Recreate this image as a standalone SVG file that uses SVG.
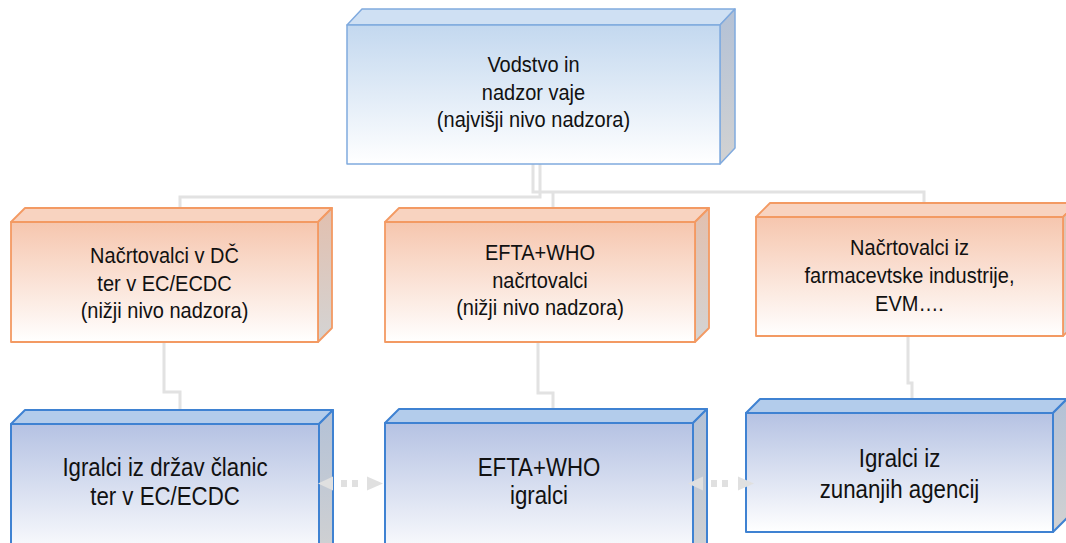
<svg xmlns="http://www.w3.org/2000/svg" width="1066" height="543" viewBox="0 0 1066 543">
<defs>
<linearGradient id="gTop" x1="0" y1="0" x2="0" y2="1"><stop offset="0" stop-color="#c3d8ef"/><stop offset="1" stop-color="#ffffff"/></linearGradient>
<linearGradient id="gOr" x1="0" y1="0" x2="0" y2="1"><stop offset="0" stop-color="#f6c6ae"/><stop offset="1" stop-color="#ffffff"/></linearGradient>
<linearGradient id="gBl" x1="0" y1="0" x2="0" y2="1"><stop offset="0" stop-color="#b5c2e3"/><stop offset="1" stop-color="#ffffff"/></linearGradient>
<linearGradient id="gSideB" x1="0" y1="0" x2="0" y2="1"><stop offset="0" stop-color="#b3c1d6"/><stop offset="1" stop-color="#d2d2d2"/></linearGradient>
<linearGradient id="gSideO" x1="0" y1="0" x2="0" y2="1"><stop offset="0" stop-color="#e2bfae"/><stop offset="1" stop-color="#d4d4d4"/></linearGradient>
</defs>
<style>
.t{font-family:"Liberation Sans",Arial,sans-serif;fill:#111111;text-anchor:middle}
.s20{font-size:21.5px}
.s22{font-size:25px}
.topB{stroke:#80aade;stroke-width:1.5;stroke-linejoin:round}
.orB{stroke:#f39a63;stroke-width:1.8;stroke-linejoin:round}
.blB{stroke:#3f82d2;stroke-width:2;stroke-linejoin:round}
.conn{fill:none;stroke:#e2e2e2;stroke-width:3}
.dots{stroke:#e0e0e0;stroke-width:7;stroke-dasharray:6 5}
.head{fill:#e0e0e0}
</style>
<rect width="1066" height="543" fill="#ffffff"/>
<g id="connectors">
<path class="conn" d="M540,164 V197 H180 V208"/>
<path class="conn" d="M533,164 V192 H924 V203"/>
<path class="conn" d="M553,192 V208"/>
<path class="conn" d="M164,342 V392 H180 V410"/>
<path class="conn" d="M538,342 V393 H553 V409"/>
<path class="conn" d="M908,336 V383 H912 V399"/>
</g>
<g id="node-top">
<polygon class="topB" fill="#cfe0f3" points="347,25 362,9 735,9 720,25"/>
<polygon class="topB" fill="url(#gSideB)" points="720,25 735,9 735,148 720,164"/>
<rect class="topB" x="347" y="25" width="373" height="139" fill="url(#gTop)"/>
<text class="t s20" transform="translate(533.5,72) scale(0.93,1)">Vodstvo in</text>
<text class="t s20" transform="translate(533.5,100) scale(0.93,1)">nadzor vaje</text>
<text class="t s20" transform="translate(533.5,127) scale(0.93,1)">(najvišji nivo nadzora)</text>
</g>
<g id="node-or1">
<polygon class="orB" fill="#f8d3c0" points="11,222 25,208 332,208 318,222"/>
<polygon class="orB" fill="url(#gSideO)" points="318,222 332,208 332,328 318,342"/>
<rect class="orB" x="11" y="222" width="307" height="120" fill="url(#gOr)"/>
<text class="t s20" transform="translate(164.5,263) scale(0.93,1)">Načrtovalci v DČ</text>
<text class="t s20" transform="translate(164.5,291) scale(0.93,1)">ter v EC/ECDC</text>
<text class="t s20" transform="translate(164.5,318) scale(0.93,1)">(nižji nivo nadzora)</text>
</g>
<g id="node-or2">
<polygon class="orB" fill="#f8d3c0" points="385,222 399,208 709,208 695,222"/>
<polygon class="orB" fill="url(#gSideO)" points="695,222 709,208 709,328 695,342"/>
<rect class="orB" x="385" y="222" width="310" height="120" fill="url(#gOr)"/>
<text class="t s20" transform="translate(540,260) scale(0.93,1)">EFTA+WHO</text>
<text class="t s20" transform="translate(540,288) scale(0.93,1)">načrtovalci</text>
<text class="t s20" transform="translate(540,315) scale(0.93,1)">(nižji nivo nadzora)</text>
</g>
<g id="node-or3">
<polygon class="orB" fill="#f8d3c0" points="756,217 770,203 1077,203 1063,217"/>
<polygon class="orB" fill="url(#gSideO)" points="1063,217 1077,203 1077,322 1063,336"/>
<rect class="orB" x="756" y="217" width="307" height="119" fill="url(#gOr)"/>
<text class="t s20" transform="translate(909.5,255) scale(0.93,1)">Načrtovalci iz</text>
<text class="t s20" transform="translate(909.5,283) scale(0.93,1)">farmacevtske industrije,</text>
<text class="t s20" transform="translate(909.5,311) scale(0.93,1)">EVM….</text>
</g>
<g id="node-bl1">
<polygon class="blB" fill="#b3cceb" points="11,424 25,410 333,410 319,424"/>
<polygon class="blB" fill="url(#gSideB)" points="319,424 333,410 333,546 319,560"/>
<rect class="blB" x="11" y="424" width="308" height="136" fill="url(#gBl)"/>
<text class="t s22" transform="translate(165,476) scale(0.89,1)">Igralci iz držav članic</text>
<text class="t s22" transform="translate(165,505) scale(0.89,1)">ter v EC/ECDC</text>
</g>
<g id="node-bl2">
<polygon class="blB" fill="#b3cceb" points="385,423 399,409 707,409 693,423"/>
<polygon class="blB" fill="url(#gSideB)" points="693,423 707,409 707,546 693,560"/>
<rect class="blB" x="385" y="423" width="308" height="137" fill="url(#gBl)"/>
<text class="t s22" transform="translate(539,476) scale(0.89,1)">EFTA+WHO</text>
<text class="t s22" transform="translate(539,504) scale(0.89,1)">igralci</text>
</g>
<g id="node-bl3">
<polygon class="blB" fill="#b3cceb" points="746,413 760,399 1067,399 1053,413"/>
<polygon class="blB" fill="url(#gSideB)" points="1053,413 1067,399 1067,518 1053,532"/>
<rect class="blB" x="746" y="413" width="307" height="119" fill="url(#gBl)"/>
<text class="t s22" transform="translate(899.5,467) scale(0.89,1)">Igralci iz</text>
<text class="t s22" transform="translate(899.5,498) scale(0.89,1)">zunanjih agencij</text>
</g>
<g id="arrows">
<line class="dots" x1="341" y1="483.5" x2="361" y2="483.5"/>
<polygon class="head" points="318,483.5 333,476.5 333,490.5"/>
<polygon class="head" points="383,483.5 367,476.5 367,490.5"/>
<line class="dots" x1="711" y1="483.5" x2="731" y2="483.5"/>
<polygon class="head" points="688,483.5 703,476.5 703,490.5"/>
<polygon class="head" points="754,483.5 738,476.5 738,490.5"/>
</g>
</svg>
